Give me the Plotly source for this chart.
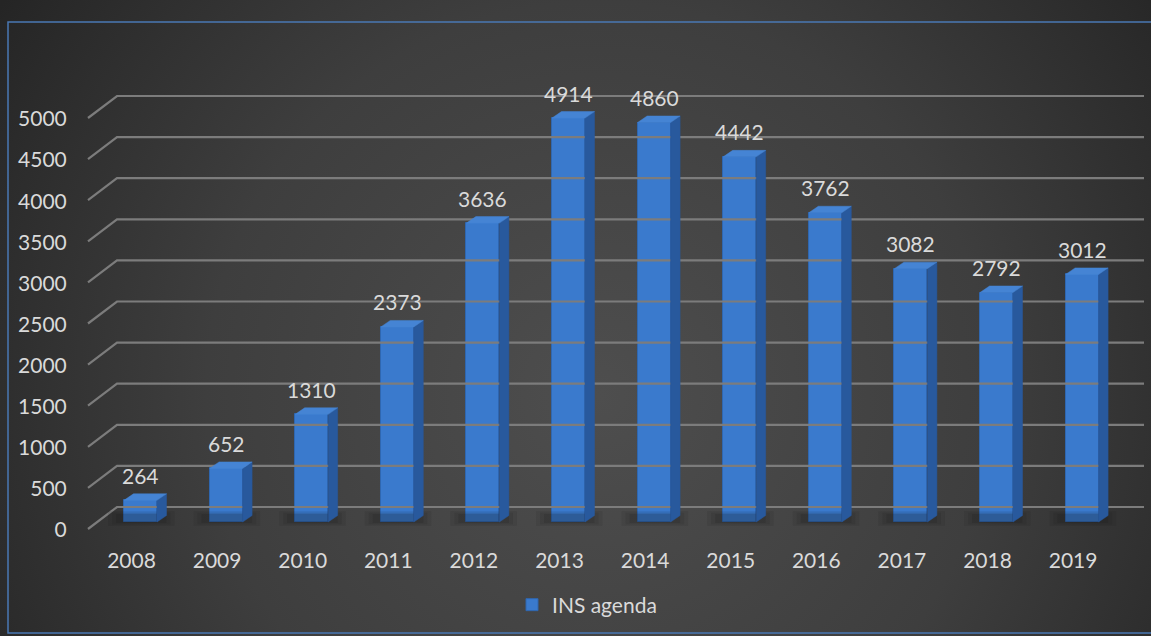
import base64
import plotly.graph_objects as go

# ---------------- data ----------------
years = ["2008", "2009", "2010", "2011", "2012", "2013",
         "2014", "2015", "2016", "2017", "2018", "2019"]
values = [264, 652, 1310, 2373, 3636, 4914, 4860, 4442, 3762, 3082, 2792, 3012]
y_ticks = [0, 500, 1000, 1500, 2000, 2500, 3000, 3500, 4000, 4500, 5000]
series_name = "INS agenda"

# ---------------- geometry (pixels of the 1151x636 page) ----------------
W, H = 1151, 636
PL, PR, PT, PB = 80, 1151, 60, 540        # plot-area box in pixels
X0PX, XSTEP = 140.5, 85.6                 # first category centre, spacing
BASEPX, KY = 522, 0.0822                  # value 0 pixel, px per unit

def xu(px):
    return (px - X0PX) / XSTEP

def yu(px_len):
    return px_len / KY

x_range = [xu(PL), xu(PR)]
y_range = [-yu(PB - BASEPX), yu(BASEPX - PT)]

xs = list(range(len(years)))
bar_w = 33 / XSTEP
dep_x = 9.5 / XSTEP
dep_y = yu(6.5)

# colours
FONT = "#dadada"
GRID = "#7c7c7c"
FRONT = "#3a7acd"
SIDE = "#28599d"
TOP = "#4584d4"

fig = go.Figure()

# gridlines in oblique 3-D (front floor edge -> back wall -> right)
gx, gy = [], []
for t in y_ticks:
    gx += [xu(88), xu(117), xu(1144), None]
    gy += [t - yu(7), t + yu(15), t + yu(15), None]
fig.add_trace(go.Scatter(x=gx, y=gy, mode="lines",
                         line=dict(color=GRID, width=2.2),
                         hoverinfo="skip", showlegend=False))

# soft floor shadows
for alpha, grow in [(0.08, 8), (0.10, 4), (0.12, 0)]:
    sx, sy = [], []
    for i in xs:
        l = i - bar_w / 2 - (8 + grow) / XSTEP
        r = i + bar_w / 2 + dep_x + grow / XSTEP
        sx += [l, r, r, l, l, None]
        sy += [-yu(1 + grow / 3), -yu(1 + grow / 3), yu(8 + grow / 3), yu(8 + grow / 3), -yu(1 + grow / 3), None]
    fig.add_trace(go.Scatter(x=sx, y=sy, mode="lines", fill="toself",
                             fillcolor=f"rgba(15,15,15,{alpha})",
                             line=dict(width=0), hoverinfo="skip", showlegend=False))

# front faces
fig.add_trace(go.Bar(x=xs, y=values, width=bar_w, name=series_name,
                     marker=dict(color=FRONT, line=dict(color="#2f67b0", width=1)),
                     showlegend=True))

# side faces
side_x, side_y = [], []
for i, v in zip(xs, values):
    xr = i + bar_w / 2
    side_x += [xr, xr, xr + dep_x, xr + dep_x, xr, None]
    side_y += [0, v, v + dep_y, dep_y, 0, None]
fig.add_trace(go.Scatter(x=side_x, y=side_y, mode="lines", fill="toself",
                         fillcolor=SIDE, line=dict(color=SIDE, width=0.5),
                         hoverinfo="skip", showlegend=False))

# top faces
top_x, top_y = [], []
for i, v in zip(xs, values):
    xl, xr = i - bar_w / 2, i + bar_w / 2
    top_x += [xl, xr, xr + dep_x, xl + dep_x, xl, None]
    top_y += [v, v, v + dep_y, v + dep_y, v, None]
fig.add_trace(go.Scatter(x=top_x, y=top_y, mode="lines", fill="toself",
                         fillcolor=TOP, line=dict(color=TOP, width=0.5),
                         hoverinfo="skip", showlegend=False))

# data labels
annotations = [dict(x=i, y=v, text=str(v), showarrow=False, yshift=25,
                    xanchor="center", yanchor="middle",
                    font=dict(family="Lato", size=21, color=FONT))
               for i, v in zip(xs, values)]

# background radial gradient
svg = (f'<svg xmlns="http://www.w3.org/2000/svg" width="{W}" height="{H}">'
       '<defs><radialGradient id="g" cx="0.52" cy="0.62" r="0.62" '
       'gradientTransform="translate(0.52 0.62) scale(1 1.81) translate(-0.52 -0.62)">'
       '<stop offset="0" stop-color="#4e4e4e"/>'
       '<stop offset="0.55" stop-color="#3e3e3e"/>'
       '<stop offset="1" stop-color="#252525"/>'
       '</radialGradient></defs>'
       f'<rect width="{W}" height="{H}" fill="url(#g)"/></svg>')
src = "data:image/svg+xml;base64," + base64.b64encode(svg.encode()).decode()

pw, ph = PR - PL, PB - PT
def xp(px):
    return (px - PL) / pw

def yp(py):
    return (PB - py) / ph

fig.update_layout(
    width=W, height=H,
    margin=dict(l=PL, r=W - PR, t=PT, b=H - PB, pad=0),
    paper_bgcolor="#2e2e2e",
    plot_bgcolor="rgba(0,0,0,0)",
    font=dict(family="Lato", size=21, color=FONT),
    bargap=0,
    images=[dict(source=src, xref="paper", yref="paper",
                 x=xp(0), y=yp(0), sizex=W / pw, sizey=H / ph,
                 xanchor="left", yanchor="top", sizing="stretch", layer="below")],
    shapes=[dict(type="rect", xref="paper", yref="paper",
                 x0=xp(8), y0=yp(633), x1=xp(1160), y1=yp(22),
                 line=dict(color="#4a78b4", width=1.5), layer="above")],
    annotations=annotations,
    legend=dict(orientation="h", x=xp(587), y=yp(605), xanchor="center",
                yanchor="middle", bgcolor="rgba(0,0,0,0)",
                font=dict(family="Lato", size=21, color=FONT),
                itemwidth=30),
    xaxis=dict(range=x_range, tickvals=xs, ticktext=years, showgrid=False,
               zeroline=False, showline=False, ticks="outside", ticklen=2,
               tickcolor="rgba(0,0,0,0)", ticklabelshift=-9,
               tickfont=dict(family="Lato", size=21, color=FONT), fixedrange=True),
    yaxis=dict(range=y_range, tickvals=y_ticks, showgrid=False, zeroline=False,
               showline=False, ticks="outside", ticklen=8,
               tickcolor="rgba(0,0,0,0)", ticklabelshift=8,
               tickfont=dict(family="Lato", size=21, color=FONT), fixedrange=True),
)

fig.write_html("out.html")
